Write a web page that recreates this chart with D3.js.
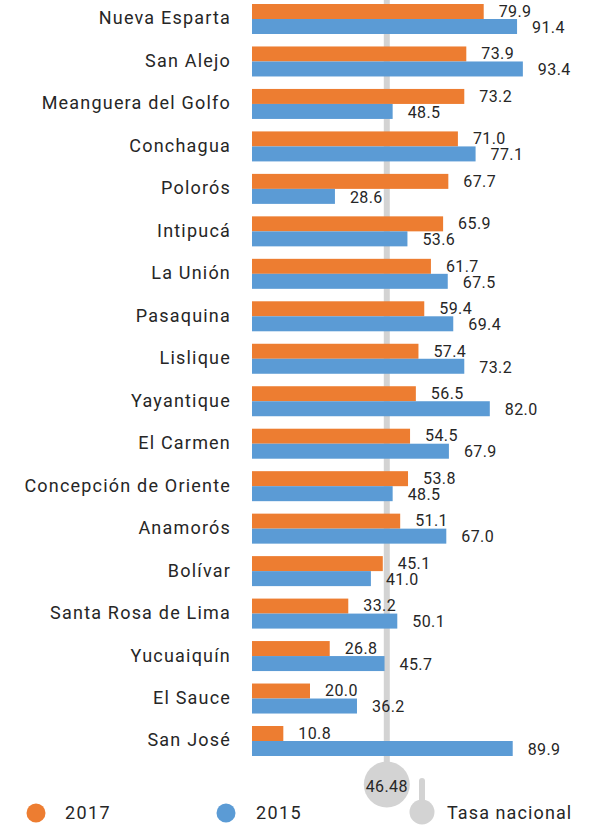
<!DOCTYPE html>
<html>
<head>
<meta charset="utf-8">
<script src="https://cdn.jsdelivr.net/npm/d3@7"></script>
<style>
  html, body { margin: 0; padding: 0; background: #fff; }
  svg { display: block; font-family: Roboto, "DejaVu Sans", sans-serif; }
</style>
</head>
<body>
<svg id="chart" width="589" height="826"></svg>
<script>
// Municipalities, top to bottom
const categories = [
  "Nueva Esparta", "San Alejo", "Meanguera del Golfo", "Conchagua", "Polorós",
  "Intipucá", "La Unión", "Pasaquina", "Lislique", "Yayantique", "El Carmen",
  "Concepción de Oriente", "Anamorós", "Bolívar", "Santa Rosa de Lima",
  "Yucuaiquín", "El Sauce", "San José"
];
const values2017 = [79.9, 73.9, 73.2, 71.0, 67.7, 65.9, 61.7, 59.4, 57.4, 56.5, 54.5, 53.8, 51.1, 45.1, 33.2, 26.8, 20.0, 10.8];
const values2015 = [91.4, 93.4, 48.5, 77.1, 28.6, 53.6, 67.5, 69.4, 73.2, 82.0, 67.9, 48.5, 67.0, 41.0, 50.1, 45.7, 36.2, 89.9];
const seriesNames = ["2017", "2015"];
const nationalRate = 46.48;
const nationalLabel = "Tasa nacional";

const colors = { "2017": "#ED7D31", "2015": "#5B9BD5" };
const gray = "#D3D3D3";
const textColor = "#262626";

const svg = d3.select("#chart");

const x = d3.scaleLinear().domain([0, 100]).range([252, 542]);
const y = d3.scaleBand().domain(categories).range([4, 756]).paddingInner(0.2936).paddingOuter(0);
const ySub = d3.scaleBand().domain(seriesNames).range([0, y.bandwidth()]);

const rows = categories.map((c, i) => ({ name: c, "2017": values2017[i], "2015": values2015[i] }));

// National rate reference line with its bubble
const xn = x(nationalRate);
const bubbleY = 784.5;
svg.append("line")
  .attr("x1", xn).attr("x2", xn).attr("y1", 0).attr("y2", bubbleY)
  .attr("stroke", gray).attr("stroke-width", 6);

// Bars
const groups = svg.selectAll("g.row").data(rows).join("g")
  .attr("class", "row")
  .attr("transform", d => `translate(0,${y(d.name)})`);

groups.selectAll("rect").data(d => seriesNames.map(s => ({ s, v: d[s] }))).join("rect")
  .attr("x", x(0))
  .attr("y", d => ySub(d.s))
  .attr("width", d => x(d.v) - x(0))
  .attr("height", ySub.bandwidth())
  .attr("fill", d => colors[d.s]);

groups.selectAll("text.val").data(d => seriesNames.map(s => ({ s, v: d[s] }))).join("text")
  .attr("class", "val")
  .attr("x", d => x(d.v) + 15)
  .attr("y", d => ySub(d.s) + ySub.bandwidth() / 2 + (d.s === "2017" ? -0.5 : 0.5))
  .attr("dy", "0.36em")
  .attr("font-size", 16)
  .attr("letter-spacing", 0.4)
  .attr("fill", textColor)
  .text(d => d3.format(".1f")(d.v));

// Category labels
groups.append("text")
  .attr("x", 231)
  .attr("y", y.bandwidth() / 2 - 1)
  .attr("dy", "0.36em")
  .attr("text-anchor", "end")
  .attr("font-size", 18)
  .attr("letter-spacing", 1.2)
  .attr("fill", textColor)
  .text(d => d.name);

// Bubble with the national value
svg.append("circle").attr("cx", xn).attr("cy", bubbleY).attr("r", 23).attr("fill", gray);
svg.append("text")
  .attr("x", xn).attr("y", bubbleY + 2).attr("dy", "0.36em")
  .attr("text-anchor", "middle").attr("font-size", 16).attr("letter-spacing", 0.4)
  .attr("fill", textColor)
  .text(d3.format(".2f")(nationalRate));

// Legend
const legendY = 813;
const legendItems = [
  { label: seriesNames[0], cx: 36, tx: 65, color: colors["2017"] },
  { label: seriesNames[1], cx: 226, tx: 256, color: colors["2015"] }
];
legendItems.forEach(it => {
  svg.append("circle").attr("cx", it.cx).attr("cy", legendY).attr("r", 9.5).attr("fill", it.color);
  svg.append("text").attr("x", it.tx).attr("y", legendY).attr("dy", "0.36em")
    .attr("font-size", 18).attr("letter-spacing", 1.4).attr("fill", textColor).text(it.label);
});
// Pin symbol for the national rate
svg.append("line").attr("x1", 422).attr("x2", 422).attr("y1", 781).attr("y2", 812)
  .attr("stroke", gray).attr("stroke-width", 6).attr("stroke-linecap", "round");
svg.append("circle").attr("cx", 422).attr("cy", 812).attr("r", 12.5).attr("fill", gray);
svg.append("text").attr("x", 447).attr("y", legendY).attr("dy", "0.36em")
  .attr("font-size", 18).attr("letter-spacing", 1.1).attr("fill", textColor).text(nationalLabel);
</script>
</body>
</html>
